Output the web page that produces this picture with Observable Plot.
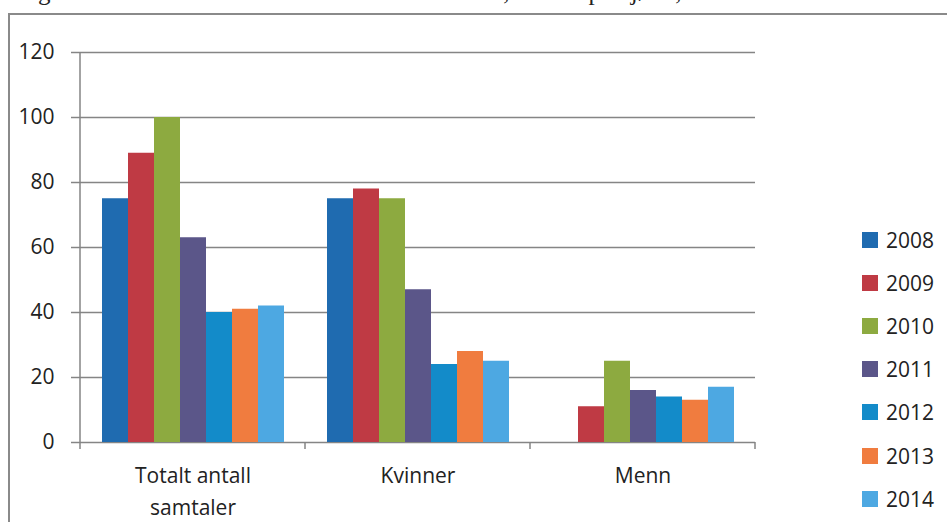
<!DOCTYPE html>
<html><head><meta charset="utf-8">
<script src="https://cdn.jsdelivr.net/npm/d3@7"></script>
<script src="https://cdn.jsdelivr.net/npm/@observablehq/plot@0.6"></script>
<style>
html,body{margin:0;padding:0;background:#fff;}
body{width:947px;height:522px;overflow:hidden;position:relative;font-family:"Open Sans",sans-serif;color:#222;}
#title{position:absolute;left:2px;top:-22px;font-family:"Liberation Serif",serif;font-size:25px;white-space:nowrap;color:#222;}
#frame{position:absolute;left:8px;top:13px;width:1000px;height:600px;border-left:2px solid #8a8a8a;border-top:2px solid #8a8a8a;}
#chart{position:absolute;left:0;top:0;}
#legend{position:absolute;left:862px;top:218px;}
.item{height:43.2px;display:flex;align-items:center;font-size:21px;}
.sw{width:16px;height:16px;margin-right:8px;}
</style></head>
<body>
<div id="title">Diagram 1 Totalt antall henvendelser 2008 – 2014, fordelt på kjønn,</div>
<div id="frame"></div>
<div id="chart"></div>
<div id="legend"></div>
<script>
const categories = ["Totalt antall samtaler", "Kvinner", "Menn"];
const categoryLabels = ["Totalt antall\nsamtaler", "Kvinner", "Menn"];
const years = ["2008", "2009", "2010", "2011", "2012", "2013", "2014"];
const totalt = [75, 89, 100, 63, 40, 41, 42];
const kvinner = [75, 78, 75, 47, 24, 28, 25];
const menn = [null, 11, 25, 16, 14, 13, 17];
const yTicks = [0, 20, 40, 60, 80, 100, 120];
const colors = ["#1F6BB0", "#BF3A44", "#8DAA40", "#5B5689", "#138BC9", "#F07C3F", "#4DA8E2"];

const series = [totalt, kvinner, menn];
const rows = [];
categories.forEach((c, ci) => years.forEach((y, yi) => {
  const v = series[ci][yi];
  if (v != null) rows.push({cat: c, year: y, value: v});
}));

const chart = Plot.plot({
  width: 947, height: 522,
  marginLeft: 79, marginRight: 191, marginTop: 52, marginBottom: 80,
  style: {background: "transparent", fontFamily: "'Open Sans', sans-serif", color: "#222"},
  fx: {domain: categories, paddingInner: 0, paddingOuter: 0, label: null, axis: null},
  x: {domain: years, paddingInner: 0, paddingOuter: 0.74, axis: null},
  y: {domain: [0, 120], axis: null},
  color: {domain: years, range: colors},
  marks: [
    Plot.ruleY(yTicks, {y: d => d, stroke: "#858585", strokeWidth: 1.5}),
    Plot.barY(rows, {fx: "cat", x: "year", y: "value", fill: "year"}),
    Plot.axisY({ticks: yTicks, tickSize: 9, tickPadding: 17, fontSize: 21, stroke: "#858585", strokeWidth: 1.5, fill: "#222", label: null}),
    Plot.axisFx({domain: categories, anchor: "bottom", tickSize: 0, tickPadding: 17, fontSize: 21, lineHeight: 1.55, fill: "#222", label: null,
      tickFormat: d => categoryLabels[categories.indexOf(d)]})
  ]
});
document.getElementById("chart").appendChild(chart);

// axis line and category boundary ticks using the plot's scales
const fxs = chart.scale("fx"), ys = chart.scale("y");
const svg = d3.select(chart);
const x0 = fxs.apply(categories[0]);
const edges = categories.map(c => fxs.apply(c)).concat([fxs.apply(categories[categories.length - 1]) + fxs.bandwidth]);
const g = svg.append("g").attr("stroke", "#858585").attr("stroke-width", 1.5);
g.append("line").attr("x1", x0).attr("x2", x0).attr("y1", ys.apply(120)).attr("y2", ys.apply(0));
edges.forEach(e => g.append("line").attr("x1", e).attr("x2", e).attr("y1", ys.apply(0)).attr("y2", ys.apply(0) + 7));

// legend
const color = chart.scale("color");
const leg = d3.select("#legend");
color.domain.forEach((y, i) => {
  const it = leg.append("div").attr("class", "item");
  it.append("div").attr("class", "sw").style("background", color.range[i]);
  it.append("span").text(y);
});
</script>
</body></html>
